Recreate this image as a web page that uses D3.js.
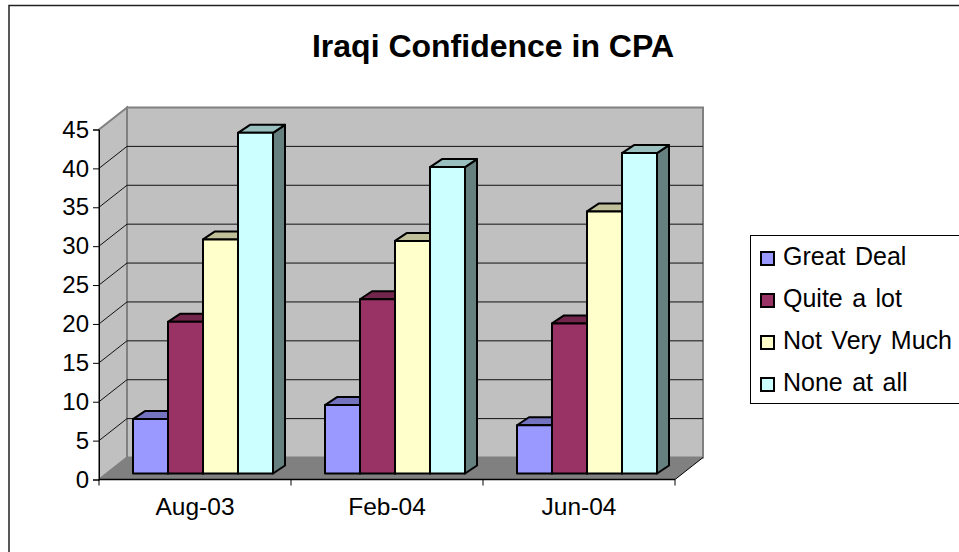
<!DOCTYPE html>
<html>
<head>
<meta charset="utf-8">
<style>
  body { margin: 0; background: #fff; }
  svg { display: block; }
  text { font-family: "Liberation Sans", Arial, sans-serif; fill: #000; }
</style>
<title>Iraqi Confidence in CPA</title>
</head>
<body>
<script src="https://cdnjs.cloudflare.com/ajax/libs/d3/7.8.5/d3.min.js"></script>
<script>
var categories = ["Aug-03", "Feb-04", "Jun-04"];
var seriesNames = ["Great Deal", "Quite a lot", "Not Very Much", "None at all"];
var greatDeal = [7, 8.8, 6.2];
var quiteALot = [19.5, 22.4, 19.3];
var notVeryMuch = [30.1, 29.9, 33.7];
var noneAtAll = [43.8, 39.4, 41.2];
var yTicks = [0, 5, 10, 15, 20, 25, 30, 35, 40, 45];

var allSeries = [greatDeal, quiteALot, notVeryMuch, noneAtAll];

var frontColors = ["#9999FF", "#993366", "#FFFFCC", "#CCFFFF"];
var topColors = ["#7373BF", "#73264C", "#BFBF99", "#99BFBF"];
var sideColors = ["#666699", "#66223F", "#A6A688", "#668080"];

var W = 959, H = 552;
var svg = d3.select("body").append("svg").attr("width", W).attr("height", H);

// chart frame, right and bottom edges run off the picture
svg.append("rect").attr("x", 9).attr("y", 5.5).attr("width", 980).attr("height", 580)
  .attr("fill", "#fff").attr("stroke", "#222").attr("stroke-width", 1.5);

svg.append("text").attr("x", 493).attr("y", 57).attr("text-anchor", "middle")
  .style("font-size", "32px").style("font-weight", 700).text("Iraqi Confidence in CPA");

var x0 = d3.scaleBand().domain(categories).range([99, 675]);
var y = d3.scaleLinear().domain([0, 45]).range([479.5, 129.5]);

// wall depth
var dx = 28, dy = -22;
var left = 99, right = 675, base = y(0), top45 = y(45);

function poly(pts) { return pts.map(function(p) { return p.join(","); }).join(" "); }

var walls = svg.append("g");
walls.append("polygon")
  .attr("points", poly([[left, base], [left + dx, base + dy], [right + dx, base + dy], [right, base]]))
  .attr("fill", "#808080");
walls.append("polygon")
  .attr("points", poly([[left, base], [left, top45], [left + dx, top45 + dy], [left + dx, base + dy]]))
  .attr("fill", "#C0C0C0").attr("stroke", "#808080").attr("stroke-width", 2);
walls.append("rect")
  .attr("x", left + dx).attr("y", top45 + dy).attr("width", right - left).attr("height", base - top45)
  .attr("fill", "#C0C0C0").attr("stroke", "#808080").attr("stroke-width", 2);
// right edge of the floor
walls.append("line").attr("x1", right).attr("y1", base).attr("x2", right + dx).attr("y2", base + dy)
  .attr("stroke", "#000");

// gridlines
var grid = svg.append("g").attr("stroke", "#111").attr("stroke-width", 1).attr("fill", "none");
yTicks.filter(function(d) { return d > 0 && d < 45; }).forEach(function(d) {
  grid.append("polyline")
    .attr("points", poly([[left, y(d)], [left + dx, y(d) + dy], [right + dx, y(d) + dy]]));
});

// bars
var barInset = 26;
var x1 = d3.scaleBand().domain(d3.range(seriesNames.length))
  .range([barInset, x0.bandwidth() - barInset]);
var bx = 8, by = -6, bdx = 12, bdy = -8;

var barG = svg.append("g").attr("stroke", "#000").attr("stroke-width", 2).attr("stroke-linejoin", "round");
categories.forEach(function(cat, ci) {
  allSeries.forEach(function(vals, si) {
    var xa = x0(cat) + x1(si) + bx, xb = xa + x1.bandwidth();
    var yb = y(0) + by, yt = y(vals[ci]) + by;
    barG.append("polygon")
      .attr("points", poly([[xb, yb], [xb + bdx, yb + bdy], [xb + bdx, yt + bdy], [xb, yt]]))
      .attr("fill", sideColors[si]);
    barG.append("polygon")
      .attr("points", poly([[xa, yt], [xa + bdx, yt + bdy], [xb + bdx, yt + bdy], [xb, yt]]))
      .attr("fill", topColors[si]);
    barG.append("rect")
      .attr("x", xa).attr("y", yt).attr("width", xb - xa).attr("height", yb - yt)
      .attr("fill", frontColors[si]);
  });
});

// axes
var yAxis = d3.axisLeft(y).tickValues(yTicks).tickSize(6).tickPadding(4).tickFormat(d3.format("d"));
var gy = svg.append("g").attr("transform", "translate(" + left + ",0)").call(yAxis);
gy.selectAll("text").style("font-size", "24px");
gy.select(".domain").attr("stroke", "#000");

var xAxis = d3.axisBottom(x0).tickSize(0).tickPadding(18);
var gx = svg.append("g").attr("transform", "translate(0," + base + ")").call(xAxis);
gx.selectAll("text").style("font-size", "24.5px");
gx.select(".domain").attr("stroke", "#000").attr("stroke-width", 1.5).attr("d", "M" + left + ",0H" + right);
gx.selectAll(".cat-tick").data(d3.range(categories.length + 1)).enter().append("line")
  .attr("class", "cat-tick").attr("stroke", "#000")
  .attr("x1", function(d) { return left + d * x0.bandwidth(); })
  .attr("x2", function(d) { return left + d * x0.bandwidth(); })
  .attr("y1", 0).attr("y2", 6);

// legend
var legend = svg.append("g");
legend.append("rect").attr("x", 750.5).attr("y", 235.5).attr("width", 230).attr("height", 168)
  .attr("fill", "#fff").attr("stroke", "#000");
var ly = d3.scalePoint().domain(seriesNames).range([258.5, 384.5]);
seriesNames.forEach(function(name, i) {
  legend.append("rect").attr("x", 761).attr("y", ly(name) - 6.5).attr("width", 13).attr("height", 13)
    .attr("fill", frontColors[i]).attr("stroke", "#000").attr("stroke-width", 2);
  legend.append("text").attr("x", 783).attr("y", ly(name) + 6.5)
    .style("font-size", "25px").style("word-spacing", "2.5px").text(name);
});
</script>
</body>
</html>
